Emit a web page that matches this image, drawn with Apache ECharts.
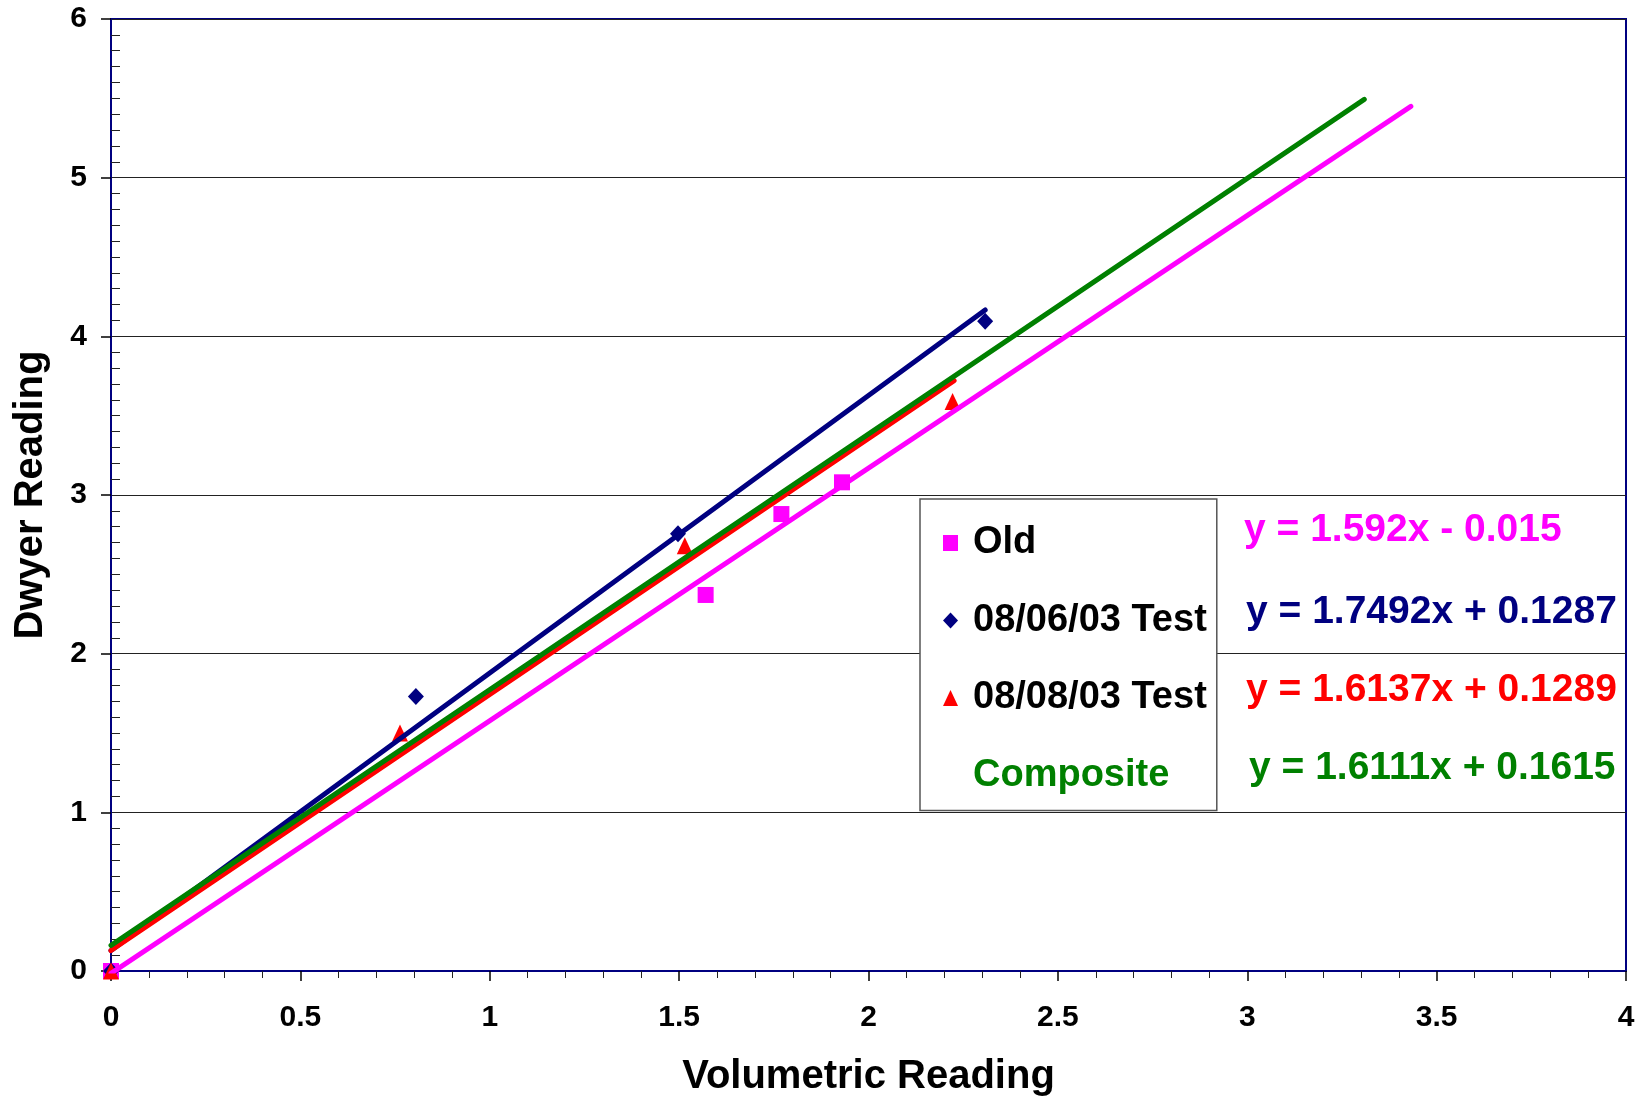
<!DOCTYPE html>
<html>
<head>
<meta charset="utf-8">
<script src="https://cdn.jsdelivr.net/npm/echarts@6/dist/echarts.min.js"></script>
<style>
html,body{margin:0;padding:0;background:#fff;}
#chart{width:1645px;height:1102px;}
</style>
</head>
<body>
<div id="chart"></div>
<script>
// ---- data ----
var seriesNames = ['Old', '08/06/03 Test', '08/08/03 Test', 'Composite'];
var oldX = [0, 1.57, 1.77, 1.93];
var oldY = [0, 2.37, 2.88, 3.08];
var t0806X = [0, 0.805, 1.497, 2.308];
var t0806Y = [0, 1.73, 2.755, 4.095];
var t0808X = [0, 0.763, 1.515, 2.222];
var t0808Y = [0, 1.50, 2.68, 3.59];
// trendline end points (x, y) as drawn
var oldTrendX = [0, 3.432];
var oldTrendY = [-0.015, 5.449];
var t0806TrendX = [0, 2.308];
var t0806TrendY = [0.1287, 4.166];
var t0808TrendX = [0, 2.226];
var t0808TrendY = [0.1289, 3.721];
var compTrendX = [0, 3.309];
var compTrendY = [0.1615, 5.493];
var equations = ['y = 1.592x - 0.015', 'y = 1.7492x + 0.1287', 'y = 1.6137x + 0.1289', 'y = 1.6111x + 0.1615'];
var xTitle = 'Volumetric Reading';
var yTitle = 'Dwyer Reading';

var C_MAG = '#FF00FF', C_NAVY = '#000080', C_RED = '#FF0000', C_GREEN = '#008000';
var FONT = 'Liberation Sans, Arial, sans-serif';

function pairs(xs, ys) { return xs.map(function (x, i) { return [x, ys[i]]; }); }

var chart = echarts.init(document.getElementById('chart'), null, {renderer: 'canvas'});

function lineSeries(name, xs, ys, color, z) {
  return {
    name: name, type: 'line', data: pairs(xs, ys), showSymbol: false, symbol: 'none',
    lineStyle: {color: color, width: 5, cap: 'round'}, itemStyle: {color: color},
    z: z, silent: true, clip: true, animation: false
  };
}

function eqText(txt, x, y, color) {
  return {type: 'text', x: x, y: y, z: 10,
    style: {text: txt, fill: color, font: 'bold 39px ' + FONT, textVerticalAlign: 'middle', textAlign: 'left'}};
}

var option = {
  animation: false,
  backgroundColor: '#fff',
  grid: {left: 111, right: 19, top: 19, bottom: 131, show: true, borderColor: C_NAVY, borderWidth: 2, backgroundColor: 'transparent'},
  xAxis: {
    type: 'value', min: 0, max: 4, interval: 0.5,
    name: xTitle, nameLocation: 'middle', nameGap: 86,
    nameTextStyle: {fontFamily: FONT, fontWeight: 'bold', fontSize: 40, color: '#000'},
    axisLine: {show: true, onZero: false, lineStyle: {color: C_NAVY, width: 2}},
    axisTick: {show: true, length: 10, lineStyle: {color: '#000', width: 1.5}},
    minorTick: {show: true, splitNumber: 5, length: 7, lineStyle: {color: '#222', width: 1}},
    axisLabel: {fontFamily: FONT, fontWeight: 'bold', fontSize: 30, color: '#000', margin: 32},
    splitLine: {show: false}
  },
  yAxis: [{
    type: 'value', min: 0, max: 6, interval: 1,
    name: yTitle, nameLocation: 'middle', nameGap: 60,
    nameTextStyle: {fontFamily: FONT, fontWeight: 'bold', fontSize: 40, color: '#000'},
    axisLine: {show: true, onZero: false, lineStyle: {color: C_NAVY, width: 2}},
    axisTick: {show: true, length: 10, lineStyle: {color: '#000', width: 1.5}},
    axisLabel: {fontFamily: FONT, fontWeight: 'bold', fontSize: 30, color: '#000', margin: 24},
    splitLine: {show: true, lineStyle: {color: '#222', width: 1.2}}
  }, {
    type: 'value', min: 0, max: 6, interval: 1, position: 'left', offset: 0,
    axisLine: {show: false}, axisLabel: {show: false}, splitLine: {show: false},
    axisTick: {show: false, inside: true},
    minorTick: {show: true, splitNumber: 10, length: 9, lineStyle: {color: '#222', width: 1}}
  }],
  legend: {
    orient: 'vertical', left: 920, top: 499,
    backgroundColor: '#fff', borderColor: '#555', borderWidth: 1.5, borderRadius: 0,
    padding: [24, 10, 15, 23], itemGap: 37.5, itemWidth: 15, itemHeight: 16,
    selectedMode: false,
    textStyle: {fontFamily: FONT, fontWeight: 'bold', fontSize: 38, color: '#000', lineHeight: 40, padding: [0, 0, 0, 10]},
    data: [
      {name: seriesNames[0], icon: 'rect'},
      {name: seriesNames[1], icon: 'diamond'},
      {name: seriesNames[2], icon: 'triangle'},
      {name: seriesNames[3], icon: 'rect', itemStyle: {opacity: 0}, lineStyle: {opacity: 0}, textStyle: {color: C_GREEN}}
    ]
  },
  series: [
    {name: seriesNames[0], type: 'scatter', data: pairs(oldX, oldY), symbol: 'rect', symbolSize: 16, itemStyle: {color: C_MAG, opacity: 1}, z: 2},
    {name: seriesNames[1], type: 'scatter', data: pairs(t0806X, t0806Y), symbol: 'diamond', symbolSize: [16, 17], itemStyle: {color: C_NAVY, opacity: 1}, z: 2},
    {name: seriesNames[2], type: 'scatter', data: pairs(t0808X, t0808Y), symbol: 'triangle', symbolSize: [16, 17], itemStyle: {color: C_RED, opacity: 1}, z: 2},
    lineSeries('Old trend', oldTrendX, oldTrendY, C_MAG, 3),
    lineSeries('08/06/03 trend', t0806TrendX, t0806TrendY, C_NAVY, 3),
    lineSeries('08/08/03 trend', t0808TrendX, t0808TrendY, C_RED, 3),
    lineSeries(seriesNames[3], compTrendX, compTrendY, C_GREEN, 3)
  ],
  graphic: [
    eqText(equations[0], 1244, 530, C_MAG),
    eqText(equations[1], 1246, 612, C_NAVY),
    eqText(equations[2], 1246, 690, C_RED),
    eqText(equations[3], 1249, 768, C_GREEN)
  ]
};
chart.setOption(option);
</script>
</body>
</html>
